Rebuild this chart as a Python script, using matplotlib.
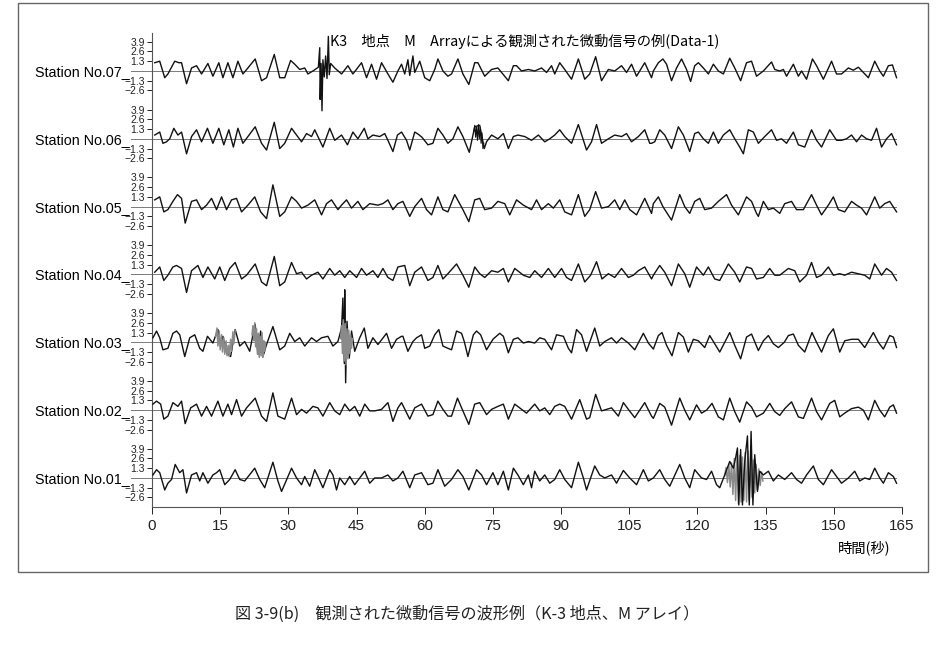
import matplotlib
matplotlib.use('Agg')
import matplotlib.pyplot as plt
from matplotlib.patches import Rectangle

plt.rcParams['font.family'] = ['Noto Sans CJK JP', 'DejaVu Sans']

# ---- labels / ticks
stations = ['Station No.01', 'Station No.02', 'Station No.03', 'Station No.04',
            'Station No.05', 'Station No.06', 'Station No.07']
amp_ticks = [3.9, 2.6, 1.3, -1.3, -2.6]
amp_labels = ['3.9', '2.6', '1.3', '\u22121.3', '\u22122.6']
time_ticks = [0, 15, 30, 45, 60, 75, 90, 105, 120, 135, 150, 165]
title = 'K3\u3000地点\u3000M\u3000Arrayによる観測された微動信号の例(Data-1)'
caption = '図 3-9(b)\u3000観測された微動信号の波形例（K-3 地点、M アレイ）'

# ---- waveforms (time [s], amplitude)
t07 = [0.6, 1.7, 2.8, 3.5, 5.0, 5.9, 6.5, 7.6, 8.7, 9.8, 10.9, 12.3, 13.4, 14.7, 15.6, 16.7, 17.8, 18.9, 20.0, 21.1,
       22.7, 24.1, 25.2, 26.9, 28.1, 29.2, 30.5, 31.4, 32.5, 33.6, 34.3, 35.4,
       36.6, 36.9, 37.0, 37.2, 37.4, 37.6, 37.9, 38.2, 38.5, 38.8, 39.0, 39.3,
       40.2, 41.7, 43.1, 44.2, 46.1, 47.2, 48.3, 49.4, 50.5, 51.9, 53.0, 54.1,
       54.9, 55.6, 56.3, 56.7, 57.4, 57.8, 58.9, 60.0, 61.1, 62.2, 62.9, 64.0, 65.1, 65.9, 67.3, 68.4, 69.7, 71.0,
       71.7, 73.2, 74.7, 76.1, 78.4, 79.5, 80.2, 81.3, 82.8, 84.2, 85.7, 86.8, 87.9, 88.6, 89.7, 90.8, 92.3, 93.8,
       95.2, 96.3, 97.6, 98.9, 100.4, 101.8, 103.3, 104.4, 105.5, 106.6, 108.4, 109.9,
       110.3, 111.4, 112.4, 113.2, 114.3, 115.4, 116.5, 117.6, 118.5, 119.4, 120.2, 121.3, 122.4, 123.5, 124.6,
       125.7, 127.1, 128.2, 129.5, 130.8, 131.9, 133.0, 134.5, 136.3, 137.0, 138.1, 138.9, 139.6, 141.1, 142.2,
       142.9, 144.0, 145.3, 146.2, 147.7, 149.5, 150.6, 151.7, 153.2, 154.3, 155.4, 156.5, 157.6, 159.0, 160.1,
       160.9, 162.0, 162.9, 163.8]
v07 = [1.1, 1.3, -0.9, -0.4, 1.3, 1.1, 1.1, -1.7, 0.4, 0.7, -0.4, 1.0, -0.7, 1.1, -0.9, 1.1, -0.9, 1.3, -0.4, 0.4,
       1.6, -1.3, -0.9, 2.2, -0.9, -0.9, 1.4, 0.9, 0.2, 0.4, -0.4, 0.0,
       0.5, 3.1, -3.8, 1.0, -5.3, 1.5, -0.8, 2.0, -1.0, 4.6, -0.5, 1.0,
       0.4, -0.4, 0.7, -0.4, 1.1, -0.9, 0.9, -1.1, 1.1, -0.4, -1.5, 0.0,
       0.9, -0.4, 1.5, -0.6, 2.0, -0.2, 1.3, -0.9, -1.3, 0.2, 1.6, 0.0, -0.7, -0.4, 1.6, -0.4, -1.8, 1.1,
       1.1, -0.7, 0.2, 0.4, -1.3, 0.7, 0.7, 0.0, 0.2, 0.0, 0.4, -0.2, 0.7, -0.4, 1.1, 0.2, -1.1, 1.6,
       -1.1, -0.4, 1.9, -1.3, 0.2, 0.0, 0.7, -0.2, 0.9, -0.7, 1.1, -0.9,
       0.0, 1.1, 1.6, 0.9, -1.3, 0.4, 1.6, 0.2, -1.4, 0.7, 1.1, 0.4, -0.4, 0.9, 0.0,
       -0.4, 1.7, 0.4, -1.3, 1.1, 1.3, -0.7, 0.0, 1.2, 0.2, 0.0, 0.2, -0.7, 0.9, -0.7,
       0.0, -1.1, 1.6, 0.7, -1.1, 1.3, -0.4, -0.4, 0.4, 0.1, 0.5, -0.2, -0.9, 1.3, 0.0,
       -0.7, 0.7, 0.8, -0.9]

t06 = [0.6, 1.7, 2.4, 3.2, 3.9, 4.8, 5.7, 6.5, 7.6, 8.7, 9.8, 10.9, 12.2, 13.4, 14.7, 15.8, 16.9, 17.9, 18.9, 20.0,
       21.1, 22.7, 24.1, 25.2, 26.9, 28.1, 29.2, 30.7, 31.8, 32.9, 34.0, 35.1, 35.8, 37.6, 39.1, 40.2, 41.7, 43.0,
       44.2, 45.3, 46.7, 47.5, 48.6, 50.1, 51.2, 51.9, 53.0, 54.0,
       54.9, 56.0, 56.7, 57.8, 58.6, 59.4, 60.7, 61.8, 62.9, 64.0, 65.1, 66.2, 67.3, 68.4, 69.8, 71.0, 72.1, 73.1,
       73.6, 74.7, 76.1, 77.3, 78.4, 79.5, 80.5, 82.0, 83.5, 85.0, 86.4, 87.5, 88.6, 89.7, 90.8, 92.3, 93.8, 95.6,
       96.7, 97.8, 98.9, 100.4, 101.8, 103.3, 104.4, 105.5, 107.0, 108.4, 109.5,
       109.9, 110.6, 111.7, 112.8, 114.3, 115.8, 116.9, 118.3, 119.4, 120.2, 121.3, 122.4, 123.5, 124.6, 125.7,
       127.1, 128.2, 129.3, 130.1, 131.2, 132.3, 133.4, 134.8, 136.3, 137.4, 138.5, 139.6, 141.1, 142.2, 143.6,
       145.1, 146.2, 147.3, 149.1, 150.6, 151.7, 152.8, 153.9, 155.0, 156.1, 157.2, 158.3, 159.4, 160.5, 161.6,
       162.7, 163.8]
v06 = [0.5, 0.9, -0.6, -0.4, 0.0, 1.4, 0.5, 0.9, -2.0, 0.3, 1.2, -0.4, 1.4, -0.6, 1.4, -0.8, 1.2, -1.1, 1.4, -0.6,
       0.3, 1.6, -0.6, -1.5, 2.2, -1.3, -0.6, 1.4, 0.5, -0.4, 0.7, 0.3, 1.2, -1.1, 1.4, -0.2, 0.5, -0.8,
       0.9, 0.0, 1.4, 0.0, 0.5, 0.3, 0.7, -0.2, -1.7, 0.5,
       0.9, -0.2, -1.5, 0.9, 0.6, 0.2, -0.8, -0.6, 1.4, 0.5, -0.6, 0.0, 1.6, 0.3, -1.8, 1.6, 1.8, -1.3,
       -0.4, 0.5, 0.0, 0.7, -1.3, 0.3, 0.5, 0.3, -0.2, 0.5, -0.4, 0.0, 0.5, 1.2, 0.3, -0.6, 1.9, -1.5,
       -0.4, 1.9, -0.6, 0.0, 0.5, 0.3, 0.7, -0.4, 0.3, 1.2, -0.6,
       -0.6, -0.4, 1.2, 0.5, -1.3, 1.6, 0.5, -1.7, 0.7, 0.9, 0.0, -0.6, 0.9, -0.6, 0.5,
       1.2, 0.0, -1.1, -2.0, 1.2, 0.9, -0.6, 0.3, 1.2, -0.2, 0.0, -0.6, 0.9, -0.8, -1.1,
       1.2, -0.2, -1.1, 1.2, -0.2, -0.2, 0.0, 0.5, -0.4, 0.5, 0.0, -0.2, 1.4, -1.1, 0.0,
       0.7, -0.8]
# noisy burst on No.06
f06_t = [70.8, 71.0, 71.2, 71.4, 71.6, 71.8, 72.0, 72.2, 72.4, 72.6, 72.8, 73.0]
f06_v = [1.0, 1.8, 0.2, 1.6, -0.2, 1.9, 0.0, 1.5, -0.6, 0.8, -1.3, -0.6]

t05 = [0.6, 1.7, 2.6, 3.5, 4.6, 5.6, 6.5, 7.3, 8.7, 9.8, 10.9, 12.0, 13.1, 14.2, 15.3, 16.4, 17.5, 18.6, 19.7, 21.1,
       22.6, 23.9, 25.2, 26.6, 27.0, 28.1, 29.2, 30.7, 31.8, 32.9, 34.3, 35.8, 37.3, 38.4, 39.5, 40.9, 41.7, 42.8,
       43.9, 45.3, 46.4, 47.9, 49.7, 50.8, 51.9, 53.0, 54.1,
       55.2, 56.7, 57.8, 59.3, 60.4, 61.5, 62.9, 64.0, 65.1, 66.6, 68.4, 69.7, 71.0, 72.1, 73.2, 74.7, 76.1, 77.6,
       78.7, 80.2, 81.7, 83.5, 84.6, 85.7, 87.2, 88.3, 89.7, 90.8, 92.3, 93.8, 95.2, 96.3, 97.6, 98.9, 100.4,
       101.8, 102.9, 104.0, 105.1, 106.6, 108.4, 109.9,
       110.3, 111.4, 112.4, 114.3, 116.1, 117.2, 118.3, 119.4, 120.5, 121.6, 123.1, 124.6, 126.4, 127.5, 129.0,
       130.8, 131.9, 133.0, 133.4, 134.5, 135.6, 136.7, 138.1, 139.2, 140.7, 141.8, 143.3, 145.1, 146.2, 147.3,
       148.8, 149.9, 151.0, 152.4, 153.9, 155.0, 156.1, 157.2, 159.0, 160.1, 161.2, 162.3, 163.8]
v05 = [0.9, 1.3, -0.7, -0.4, 0.7, 1.6, 1.1, -2.2, 0.7, 0.9, -0.4, 0.2, 1.1, -0.4, 1.3, -0.4, 0.9, 1.1, -0.7, 0.2,
       1.3, -0.7, -1.6, 2.9, 1.8, -1.3, -0.7, 1.3, 0.7, -0.2, 0.2, 0.9, -1.1, 0.4, 0.9, -0.4, 0.2, 0.9,
       -0.2, 0.7, -0.4, 0.4, 0.2, 0.4, 0.9, -0.4, 0.4,
       0.7, -1.3, 0.0, 1.1, -0.4, -1.1, 1.3, -0.4, -0.7, 1.6, -0.4, -2.0, 0.9, 1.1, -0.4, -0.2, 0.7, 0.4,
       -1.1, 0.9, 0.2, -0.4, 0.9, -0.4, 0.4, -0.2, 0.9, -0.7, -1.1, 1.6, -1.3, -0.4, 2.0, -0.2, 0.0,
       0.9, -0.4, 0.9, -0.4, -1.1, 1.1, -0.9,
       0.4, 1.3, 0.0, -1.8, 1.6, 0.0, -0.9, 0.7, 1.1, -0.4, -0.2, 0.7, 1.6, 0.2, -1.1,
       1.3, 0.7, -0.9, -1.3, 0.7, -0.4, -0.2, -0.9, 0.4, 0.7, -0.4, -0.4, 1.6, 0.2, -1.1,
       0.2, 1.3, -0.4, -0.7, 0.7, 0.2, -0.2, -1.1, 1.3, -0.2, 0.4, 0.7, -0.7]

t04 = [0.6, 1.7, 2.6, 3.5, 4.6, 5.4, 6.5, 7.6, 8.7, 10.1, 11.2, 12.3, 13.8, 14.9, 16.0, 17.1, 18.3, 19.7, 20.8, 22.7,
       24.1, 25.2, 26.9, 28.1, 29.2, 30.7, 31.8, 32.9, 34.0, 35.1, 36.5, 37.6, 39.1, 40.2, 41.3, 42.4, 43.5, 45.0,
       46.1, 47.2, 48.6, 49.7, 50.8, 51.9, 53.0, 54.1,
       55.6, 56.7, 57.8, 59.3, 60.7, 61.8, 62.9, 64.0, 65.1, 67.0, 68.4, 69.7, 71.0, 72.1, 73.2, 74.7, 76.1, 77.3,
       78.4, 79.8, 81.7, 83.1, 84.2, 85.7, 87.2, 88.6, 90.1, 91.2, 92.3, 93.8, 95.2, 96.5, 97.8, 99.0, 100.4,
       101.8, 103.3, 104.8, 105.9, 107.0, 108.4, 109.9,
       110.3, 111.7, 112.8, 114.3, 115.8, 117.2, 118.3, 119.8, 121.3, 122.4, 123.8, 124.9, 126.8, 128.2, 129.3,
       130.8, 131.9, 133.0, 134.5, 135.9, 137.0, 138.1, 140.0, 141.4, 142.5, 144.0, 145.1, 146.2, 147.3, 148.8,
       149.9, 151.3, 152.4, 153.9, 155.4, 156.8, 157.9, 159.0, 160.5, 161.6, 162.7, 163.8]
v04 = [0.3, 1.0, -0.8, -0.1, 1.0, 1.2, 0.8, -2.4, 0.5, 1.2, -0.4, 1.0, -0.6, 1.0, -0.8, 0.8, 1.6, -0.6, -0.1, 1.4,
       -1.0, -1.5, 2.4, -1.5, -1.0, 1.6, 0.1, 0.3, -0.6, -0.1, 0.3, -0.6, 0.8, -0.1, 0.5, -0.4, 0.5, -0.4,
       0.8, -0.1, 0.5, -0.4, 0.8, -0.4, -0.8, 1.0,
       1.2, -1.5, 0.3, 1.0, -0.8, -0.4, 1.2, -0.6, 0.1, 1.4, -0.1, -1.7, 1.0, 0.1, -0.4, 0.5, 0.3, 0.8,
       -1.0, 0.8, -0.1, -0.4, 0.5, -0.4, 0.8, -0.4, 0.8, -0.4, -0.8, 1.4, -1.0, -0.1, 1.7, -0.6, 0.1,
       -0.4, 0.8, -0.4, -0.1, 0.5, 1.0, -0.6,
       -0.1, 1.2, 0.3, -1.5, 1.4, 0.1, -1.7, 1.0, -0.1, 1.0, -0.6, -0.8, 1.4, 0.3, -1.0,
       1.0, 0.8, -0.6, -0.4, 0.8, -0.1, -0.1, 0.8, 0.5, -1.0, -0.1, 1.6, -0.4, -0.1, 1.0,
       -0.1, 0.1, -0.1, 0.3, 0.1, -0.1, -0.6, 1.4, -0.1, 0.8, 0.3, -0.8]

t03 = [0.2, 1.0, 1.7, 2.4, 3.5, 4.6, 5.4, 6.1, 7.2, 8.3, 9.4, 10.5, 11.2, 12.2, 13.4, 14.2, 14.5, 15.1, 15.6, 16.4,
       17.3, 18.3, 19.3, 20.4, 21.5, 22.2, 22.7, 23.3, 23.9, 24.4, 25.2, 26.6, 28.1, 29.2, 30.3, 31.4, 32.5, 33.6,
       35.1, 36.2, 37.3, 38.7, 39.8, 40.9, 41.7, 42.0, 42.3, 42.4, 42.6, 42.9, 43.4, 43.9, 44.6, 45.7, 46.7, 47.5,
       48.6, 49.7, 51.6, 52.7, 53.8, 54.9,
       55.2, 56.3, 57.4, 58.2, 59.3, 60.0, 61.1, 62.2, 63.1, 64.0, 65.1, 65.9, 67.0, 68.1, 68.7, 69.5, 70.7, 71.4,
       72.3, 73.6, 75.0, 76.5, 77.3, 78.4, 79.5, 80.5, 81.7, 82.8, 84.2, 85.3, 86.4, 87.9, 89.0, 90.5, 91.6, 92.3,
       93.4, 94.5, 95.6, 97.4, 98.5, 99.6, 101.1, 102.2, 103.3, 104.8, 106.2, 108.1, 109.2,
       110.3, 111.4, 112.2, 113.2, 114.4, 115.8, 116.9, 118.0, 119.1, 120.2, 121.6, 122.7, 123.8, 124.9, 127.1,
       128.2, 129.5, 130.8, 131.9, 133.4, 134.5, 135.6, 136.7, 137.8, 139.1, 140.0, 141.1, 142.2, 143.6, 145.2,
       146.2, 147.3, 148.8, 149.9, 151.3, 152.4, 153.9, 155.4, 156.8, 158.7, 159.8, 160.9, 162.3, 163.1, 163.8]
v03 = [0.6, 1.5, 0.6, -1.0, -0.8, 1.2, 1.5, 1.0, -1.9, 0.6, 1.0, -0.8, -1.2, 0.8, -0.1, 1.2, 1.7, -0.5, 0.8, -1.4,
       -1.9, 1.7, -0.5, 0.1, -1.2, 1.0, 2.4, -1.6, 1.5, -1.9, -0.3, 2.1, -1.0, -0.5, 1.2, 0.1, 0.6, -0.5,
       0.6, 0.1, 0.6, 0.8, -0.5, 0.1, 1.9, 5.9, -2.8, 7.0, -5.4, 2.8, -2.1, 1.5, -1.2, 0.6, 1.9, -0.8,
       0.6, -0.3, 1.2, -0.8, 0.4, 0.8,
       0.8, -1.2, 0.1, 0.6, 1.0, -0.8, -0.5, 1.0, 1.7, -0.5, -0.8, -1.0, 1.5, 1.2, 0.1, -1.9, 1.0, 1.5,
       1.0, -1.0, 0.4, 1.2, 0.8, -1.4, 0.4, 0.6, -0.1, 0.1, -0.1, 0.6, 0.4, -1.0, 1.0, 0.8, -0.8, -1.4,
       1.7, 1.0, -1.2, 1.9, -0.5, 0.1, 0.6, -0.1, 0.6, -0.1, -1.0, 1.2, -0.1,
       -0.9, 0.9, 1.3, -0.4, -1.8, 1.3, 0.7, -1.3, 0.4, 0.2, -0.7, 0.9, -0.2, -1.3, 1.3,
       -0.4, -2.2, 0.7, 1.1, -1.1, 0.2, 0.9, -0.2, -0.7, 0.0, 0.9, 1.1, -0.4, -1.3, 1.3,
       0.0, -1.3, 0.9, 1.8, -1.3, 0.2, 0.4, 0.4, -0.7, 1.3, 0.0, -0.9, 0.9, 0.7, -0.7]
# grey (dense) segments on No.03
g03a_t = [14.0, 14.3, 14.5, 14.8, 15.0, 15.3, 15.5, 15.8, 16.0, 16.3, 16.5, 16.8, 17.0, 17.3, 17.5, 17.8, 18.0, 18.3]
g03a_v = [0.8, 1.9, -0.5, 1.5, -1.0, 1.0, -1.3, 0.6, -1.6, 0.2, -1.8, -0.4, -1.9, 0.4, -1.2, 1.4, -0.2, 1.6]
g03b_t = [22.0, 22.2, 22.4, 22.6, 22.8, 23.0, 23.2, 23.4, 23.6, 23.8, 24.0, 24.2, 24.4, 24.6, 24.8, 25.0]
g03b_v = [1.0, 2.2, 0.2, 2.6, -0.6, 1.8, -1.6, 1.2, -2.0, 0.8, -1.8, 1.3, -2.0, 0.2, -1.2, 0.0]
g03c_t = [41.5, 41.7, 41.9, 42.1, 42.3, 42.5, 42.7, 42.9, 43.1, 43.3, 43.5, 43.7, 43.9, 44.1]
g03c_v = [0.5, 2.2, -1.5, 3.0, -2.5, 2.5, -3.0, 1.8, -2.2, 1.6, -1.5, 1.0, -0.8, 0.5]

t02 = [0.2, 1.0, 1.9, 2.6, 3.5, 4.6, 5.7, 6.5, 7.3, 8.5, 9.8, 10.9, 12.0, 13.1, 14.5, 15.6, 16.7, 17.5, 18.6, 19.7,
       20.8, 22.7, 24.1, 25.2, 26.6, 27.7, 29.2, 30.7, 31.8, 32.9, 34.0, 35.4, 36.5, 37.6, 39.1, 40.2, 41.3, 42.4,
       43.5, 44.6, 45.7, 46.8, 47.9, 49.0, 50.5, 51.9, 53.0, 54.1,
       54.9, 56.7, 57.8, 59.3, 60.7, 61.8, 62.9, 64.0, 65.1, 65.9, 67.2, 68.4, 69.7, 71.0, 72.1, 73.6, 74.7, 76.1,
       77.3, 78.4, 79.8, 80.9, 82.4, 84.2, 85.3, 86.4, 87.5, 88.6, 89.7, 90.8, 92.3, 94.1, 95.6, 96.3, 97.6, 98.9,
       100.0, 101.1, 102.6, 103.7, 104.8, 106.2, 108.4, 109.9,
       110.3, 111.7, 112.8, 114.3, 116.1, 117.2, 118.3, 119.8, 120.9, 122.0, 123.2, 124.6, 125.7, 127.1, 128.2,
       129.3, 130.8, 131.9, 133.0, 134.5, 135.9, 137.0, 138.1, 139.2, 140.7, 142.2, 143.3, 145.1, 146.2, 147.3,
       149.1, 150.2, 151.3, 152.4, 153.9, 155.4, 156.5, 157.6, 159.0, 160.1, 161.2, 162.3, 163.1, 163.8]
v02 = [0.8, 1.2, 0.8, -1.2, -0.8, 1.0, 0.5, 1.2, -1.8, 0.3, 0.8, -0.8, 0.5, -0.8, 1.2, -0.8, 0.8, -0.6, 1.4, -0.8,
       0.3, 1.6, -0.8, -1.5, 2.3, -0.8, -1.2, 1.6, -0.6, 0.1, -0.4, 0.5, 0.3, -0.8, 1.0, -0.1, -0.6, 0.8,
       -0.1, 0.5, -0.8, 0.8, -0.1, -0.1, 0.1, 1.0, -1.5, 0.3,
       1.0, -1.2, 0.3, 0.8, -0.8, -0.6, 1.2, 0.1, -0.8, -0.8, 1.6, -0.1, -1.9, 0.8, 1.0, -0.6, 0.1, 0.5,
       0.8, -1.2, 0.8, 0.3, -0.4, 0.8, -0.1, 0.3, -0.6, 0.5, 0.8, 0.5, -1.2, 1.4, -1.2, -1.0, 2.1, -0.1,
       0.1, 0.3, -0.8, 1.0, 0.1, -1.0, 1.0, -0.8,
       -1.1, 0.9, 0.4, -2.0, 1.6, 0.0, -1.3, 0.7, -0.4, 0.0, 0.9, -0.9, -1.3, 1.6, -0.2,
       -1.6, 1.1, 0.4, -0.9, -0.4, 0.9, -0.2, -0.7, 0.2, 1.1, -0.9, -1.1, 1.6, -0.2, -1.3,
       0.9, 1.3, -0.9, -0.4, 0.2, 0.4, 0.0, -1.3, 1.3, 0.0, -0.9, 0.4, 0.7, -0.4]

t01 = [0.2, 1.0, 1.7, 2.8, 3.5, 4.3, 5.1, 6.1, 6.8, 7.6, 8.7, 9.8, 10.5, 11.2, 12.3, 13.4, 14.2, 14.9, 16.0, 17.1,
       18.3, 19.3, 20.4, 22.6, 23.7, 24.8, 26.6, 27.7, 28.5, 30.7, 31.8, 32.9, 33.6, 34.7, 35.8, 36.5, 37.6, 39.1,
       39.8, 40.6, 41.3, 42.4, 43.5, 44.6, 46.8, 47.9, 49.0, 50.5, 51.9, 53.0, 54.1,
       55.2, 56.7, 57.8, 59.3, 60.7, 61.8, 62.9, 64.4, 65.9, 67.3, 68.4, 69.7, 71.4, 72.5, 73.6, 75.0, 76.1, 77.3,
       78.4, 79.5, 80.5, 81.7, 82.8, 83.5, 84.2, 85.3, 86.4, 87.5, 88.6, 89.7, 90.8, 92.3, 93.8, 94.9, 95.6, 97.4,
       98.5, 99.6, 101.1, 102.2, 103.7, 105.1, 106.6, 108.1, 109.2,
       110.3, 111.7, 112.8, 113.9, 116.1, 117.2, 118.3, 119.4, 120.9, 122.0, 123.1, 124.2, 124.9, 126.0, 127.1,
       127.9, 128.4, 128.8, 129.1, 129.5, 129.9, 130.4, 131.0, 131.4, 131.8, 132.2, 132.6, 133.2,
       133.7, 134.5, 135.6, 136.7, 137.8, 139.2, 140.7, 141.8, 142.9, 144.0, 145.5, 146.6, 147.7, 149.5, 150.6,
       151.7, 153.2, 154.6, 155.7, 156.8, 157.9, 159.0, 160.1, 160.9, 162.0, 163.1, 163.8]
v01 = [0.4, 1.1, 0.7, -1.6, -0.7, -0.2, 1.8, 0.7, 1.1, -2.0, 0.4, 0.7, -0.4, 0.7, -0.7, 0.4, 0.7, 1.1, -0.9, -0.2,
       1.1, -0.2, -0.4, 1.3, -0.2, -1.3, 2.1, -0.4, -1.8, 1.3, 0.0, -0.9, 0.2, -1.1, 1.1, 0.2, -1.3, 1.1,
       0.4, -1.6, 0.0, -0.9, 0.2, -0.9, 0.9, -0.7, 0.0, 0.0, 0.4, -0.4, 0.0,
       0.9, -1.3, 0.4, 0.7, -0.9, -0.7, 1.1, -1.1, -0.2, 1.1, 0.2, -1.6, 1.1, 0.4, -0.9, 0.7, -0.9, 0.9,
       -1.6, 1.3, 0.4, -0.9, 0.4, -1.3, 0.9, -0.4, 0.4, -0.7, -0.2, 1.1, -0.2, -1.3, 2.1, 0.0, -1.6, 1.6,
       0.4, 0.0, 0.4, -0.7, 1.0, 0.0, -0.9, 1.1, -0.4,
       0.0, 1.1, -0.2, -1.1, 1.8, 0.0, -1.3, 1.1, 0.0, -0.2, 0.9, -0.9, -1.3, 0.4, 2.2,
       1.3, 2.7, 4.0, -3.6, 3.8, -3.6, 2.2, 5.6, -3.6, 6.2, -3.6, 3.1, -1.8,
       0.9, 0.4, 0.9, -0.4, 0.4, -0.2, 0.7, -0.2, -0.7, 0.4, 1.6, -0.2, -0.9, 1.1, 0.2,
       -0.7, 0.0, 0.9, -0.4, 0.0, -0.2, 1.3, 0.0, -0.7, 0.7, 0.2, -0.7]
# grey dense burst on No.01
g01_t = [126.0, 126.3, 126.6, 126.9, 127.2, 127.5, 127.8, 128.1, 128.4, 128.7, 129.0, 129.3, 129.6, 129.9, 130.2,
         130.5, 130.8, 131.1, 131.4, 131.7, 132.0, 132.3, 132.6, 132.9, 133.2, 133.5, 133.8, 134.1, 134.4]
g01_v = [0.3, 1.4, -0.6, 1.8, -1.2, 2.0, -2.2, 2.6, -3.0, 3.2, -3.4, 3.0, -3.2, 2.8, -3.0,
         3.4, -3.2, 3.6, -3.0, 2.8, -2.6, 2.4, -2.0, 1.8, -1.6, 1.2, -1.0, 0.8, -0.4]

traces = [(t01, v01), (t02, v02), (t03, v03), (t04, v04), (t05, v05), (t06, v06), (t07, v07)]
gap = 9.04  # vertical spacing between stations (amplitude units)

fig = plt.figure(figsize=(9.5, 6.6), dpi=100)
ax = fig.add_axes([152 / 950, 153 / 660, 750 / 950, 474 / 660])
ax.set_xlim(0, 165)
ax.set_ylim(-3.87, 59.3)

grey = '#8a8a8a'
for i, (t, v) in enumerate(traces):
    off = i * gap
    ax.plot([-4.6, 163.7], [off, off], color='#7a7a7a', lw=0.7, clip_on=False, zorder=1)
    if i == 0:
        ax.plot(g01_t, [off + y for y in g01_v], color=grey, lw=1.1, clip_on=False, zorder=2)
    ax.plot(t, [off + y for y in v], color='#111111', lw=1.0, clip_on=False, zorder=3,
            solid_joinstyle='round')
    ax.text(-5.0, off - 0.67, stations[i] + '_', ha='right', va='baseline',
            fontsize=10.3, family='Liberation Sans')

off03 = 2 * gap
for gt, gv in [(g03a_t, g03a_v), (g03b_t, g03b_v), (g03c_t, g03c_v)]:
    ax.plot(gt, [off03 + y for y in gv], color=grey, lw=1.1, zorder=4)
ax.plot(f06_t, [5 * gap + y for y in f06_v], color='#111111', lw=0.8, zorder=3)

yt, yl = [], []
for i in range(7):
    for a, lab in zip(amp_ticks, amp_labels):
        yt.append(i * gap + a)
        yl.append(lab)
ax.set_yticks(yt)
ax.set_yticklabels(yl, fontsize=7.5, family='Liberation Sans')
ax.tick_params(axis='y', direction='out', length=3.5, width=0.7, pad=1.5, colors='#222222')

ax.set_xticks(time_ticks)
ax.set_xticklabels([str(x) for x in time_ticks], fontsize=11, family='Liberation Sans')
ax.tick_params(axis='x', direction='out', length=5, width=0.7, pad=4, colors='#222222')

for s in ['top', 'right']:
    ax.spines[s].set_visible(False)
for s in ['left', 'bottom']:
    ax.spines[s].set_color('#555555')
    ax.spines[s].set_linewidth(0.8)

fig.text(330 / 950, 1 - 41 / 660, title, fontsize=10.3, va='center', ha='left')
fig.text(838 / 950, 1 - 548 / 660, '時間(秒)', fontsize=10.3, va='center', ha='left')
fig.text(235 / 950, 1 - 614 / 660, caption, fontsize=11.6, va='center', ha='left', color='#222222')

fig.add_artist(Rectangle((18 / 950, 88 / 660), 910 / 950, 569 / 660, fill=False,
                         transform=fig.transFigure, lw=1.0, ec='#666666'))

fig.savefig('out.png', dpi=100)
